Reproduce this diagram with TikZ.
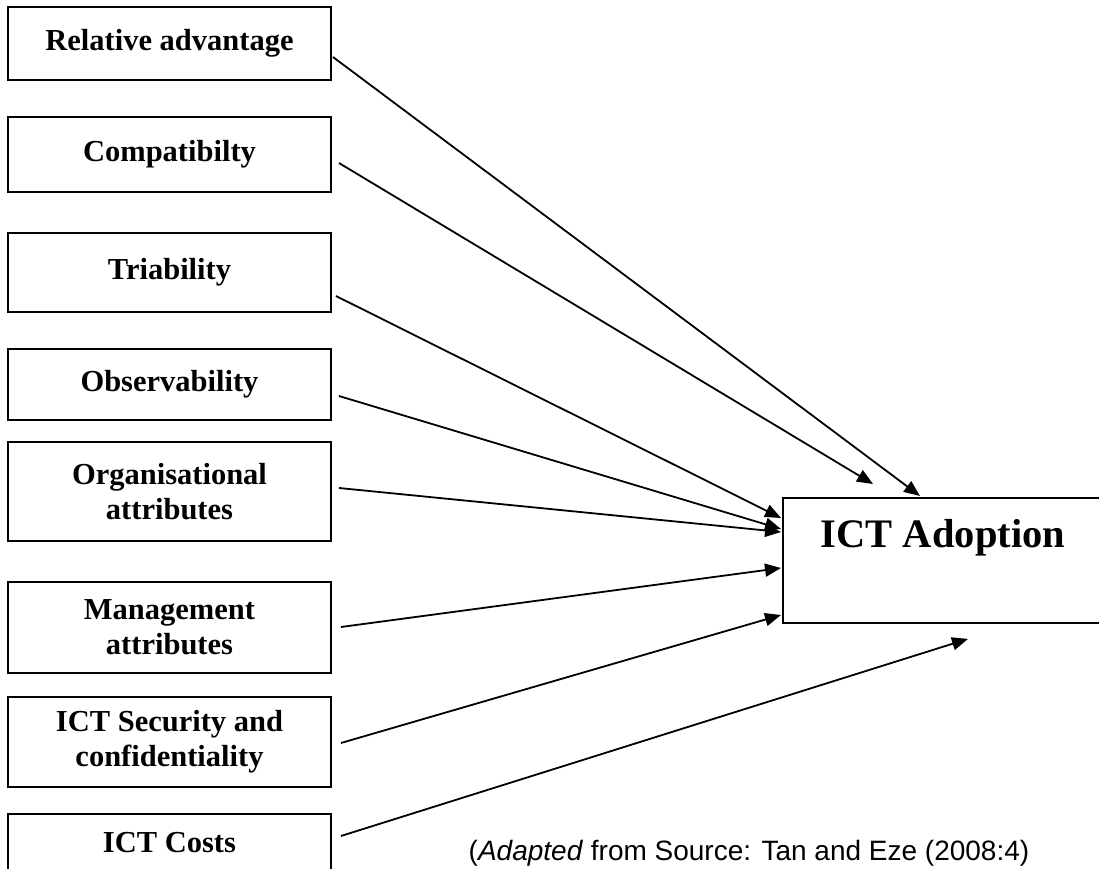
\documentclass[tikz,border=0pt]{standalone}
\usepackage{fontspec}
\setmainfont{Liberation Serif}
\newfontfamily\srcfont{Liberation Sans}
\usetikzlibrary{arrows.meta}
\tikzset{
    factor-box/.style = {draw, line width=1.9pt, rectangle, minimum width=323pt, align=center, inner sep=0pt, font=\bfseries\fontsize{30.5}{35}\selectfont},
    adoption-box/.style = {draw, line width=1.9pt, rectangle, minimum width=320pt, inner sep=0pt, text height=50pt, text depth=75pt, font=\bfseries\fontsize{40.5}{44}\selectfont},
    factor-arrow/.style = {line width=1.8pt, -{Triangle[length=16pt, width=13pt]}},
}

\begin{document}
\begin{tikzpicture}[x=1pt, y=1pt]
\useasboundingbox (0,0) rectangle (1099,868);

% the eight attributes on the left
\node [factor-box, minimum height=73pt] (ra) at (169.5,824.5) {Relative advantage};
\node [factor-box, minimum height=75pt] (comp) at (169.5,713.5) {Compatibilty};
\node [factor-box, minimum height=79pt] (tri) at (169.5,595.5) {Triability};
\node [factor-box, minimum height=71pt] (obs) at (169.5,483.5) {Observability};
\node [factor-box, minimum height=99pt] (org) at (169.5,376.5) {Organisational\\attributes};
\node [factor-box, minimum height=91pt] (mgmt) at (169.5,240.5) {Management\\attributes};
\node [factor-box, minimum height=90pt] (sec) at (169.5,126) {ICT Security and\\confidentiality};
\node [factor-box, minimum height=58pt] (cost) at (169.5,25) {ICT Costs};

% outcome
\node [adoption-box, anchor=north west] (ict) at (782,371) {ICT Adoption};

% arrows into the outcome box
\draw [factor-arrow] ([xshift=1pt, yshift=-13.5pt]ra.east) -- ([xshift=138pt, yshift=1pt]ict.north west);
\draw [factor-arrow] ([xshift=7pt, yshift=-8.5pt]comp.east) -- ([xshift=91pt, yshift=13pt]ict.north west);
\draw [factor-arrow] ([xshift=4pt, yshift=-23.5pt]tri.east) -- ([xshift=-1pt, yshift=-21pt]ict.north west);
\draw [factor-arrow] ([xshift=7pt, yshift=-11.5pt]obs.east) -- ([xshift=-1pt, yshift=-32pt]ict.north west);
\draw [factor-arrow] ([xshift=7pt, yshift=3.5pt]org.east) -- ([xshift=-1pt, yshift=-35pt]ict.north west);
\draw [factor-arrow] ([xshift=9pt, yshift=0.5pt]mgmt.east) -- ([xshift=-1pt, yshift=-71pt]ict.north west);
\draw [factor-arrow] ([xshift=9pt, yshift=-1pt]sec.east) -- ([xshift=-1pt, yshift=-118pt]ict.north west);
\draw [factor-arrow] ([xshift=9pt, yshift=7pt]cost.east) -- ([xshift=186pt, yshift=-15pt]ict.south west);

\node [anchor=base, font=\srcfont\fontsize{28}{32}\selectfont, inner sep=0pt] (src) at (749,7.5) {(\textit{Adapted} from Source: Tan and Eze (2008:4)};
\end{tikzpicture}
\end{document}
